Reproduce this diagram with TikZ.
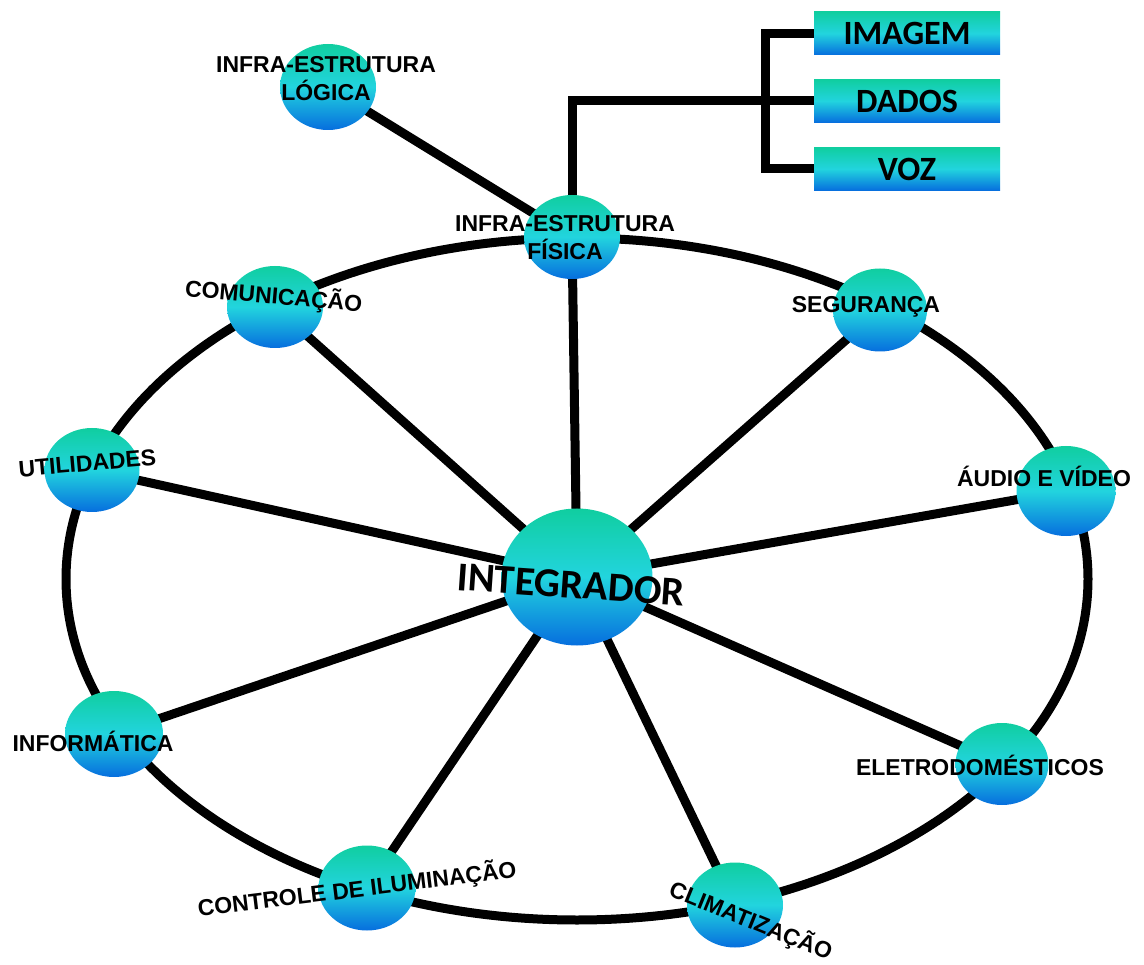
\documentclass[tikz,border=0pt]{standalone}
\usepackage{fontspec}
\setmainfont{Liberation Sans}
\newfontfamily\calibri{Carlito}
\definecolor{bolhatopo}{RGB}{16,206,160}
\definecolor{bolhameio}{RGB}{34,212,222}
\definecolor{bolhabase}{RGB}{6,110,222}
\usetikzlibrary{backgrounds,shapes.geometric}

\begin{document}
\begin{tikzpicture}[x=1pt,y=-1pt,
    rotulo/.style={font=\bfseries\fontsize{23}{28}\selectfont,inner sep=0pt,align=center},
    caixa/.style={rectangle,minimum width=186pt,minimum height=43pt,inner sep=0pt,
      top color=bolhatopo,bottom color=bolhabase,middle color=bolhameio,
      font=\calibri\bfseries\fontsize{34}{34}\selectfont},
    traco/.style={line width=9pt},
    ]
  \useasboundingbox (0,0) rectangle (1144,965);

  % bolhas
  \begin{scope}[every node/.style={ellipse,inner sep=0pt,
      top color=bolhatopo,bottom color=bolhabase,middle color=bolhameio},
    ]
    \foreach \nome/\x/\y/\w/\h in {integrador/577/577/151/137, fisica/572/237/96/84,
      logica/328/87/96/86, comunicacao/275/307/96/82, utilidades/92/470/95/84,
      seguranca/880/310/94/83, audio/1066/491/99/90, informatica/114/734/98/86,
      eletro/1002/764/93/82, iluminacao/367/888/97/85, climatizacao/735/905/96/85} {
      \node [minimum width=\w pt,minimum height=\h pt] (\nome) at (\x,\y) {};
    }
  \end{scope}

  \node [caixa] (imagem) at (907,33.5) {IMAGEM};
  \node [caixa] (dados) at (907,101) {DADOS};
  \node [caixa] (voz) at (907,169) {VOZ};
  \coordinate (chave) at (765,101);

  \begin{scope}[on background layer]
    \draw [traco] (577,579) ellipse [x radius=511pt,y radius=341pt];
    \foreach \n in {fisica,comunicacao,utilidades,seguranca,audio,informatica,eletro,iluminacao,climatizacao} {
      \draw [traco] (integrador.center) -- (\n.center);
    }
    \draw [traco] (logica.center) -- (fisica.center);
    \draw [traco] (fisica.center) |- (dados.west);
    \draw [traco] (imagem.west) -| (chave) |- (voz.west);
  \end{scope}

  % textos
  \node [rotulo,anchor=base,rotate=-4,font=\calibri\bfseries\fontsize{41}{41}\selectfont]
    (t-integrador) at (570,598) {INTEGRADOR};
  \node [rotulo] (t-logica) at (326,79) {INFRA-ESTRUTURA\\LÓGICA};
  \node [rotulo] (t-fisica) at (565,238) {INFRA-ESTRUTURA\\FÍSICA};
  \node [rotulo,anchor=base,rotate=-5] (t-comunicacao) at (273,304) {COMUNICAÇÃO};
  \node [rotulo,anchor=base,rotate=5] (t-utilidades) at (88,471) {UTILIDADES};
  \node [rotulo,anchor=base] (t-seguranca) at (866,313) {SEGURANÇA};
  \node [rotulo,anchor=base] (t-audio) at (1044,486) {ÁUDIO E VÍDEO};
  \node [rotulo,anchor=base] (t-informatica) at (93,751) {INFORMÁTICA};
  \node [rotulo,anchor=base] (t-eletro) at (980,775) {ELETRODOMÉSTICOS};
  \node [rotulo,anchor=base,rotate=7] (t-iluminacao) at (358,897) {CONTROLE DE ILUMINAÇÃO};
  \node [rotulo,anchor=base,rotate=-22] (t-climatizacao) at (748,928) {CLIMATIZAÇÃO};
\end{tikzpicture}
\end{document}
